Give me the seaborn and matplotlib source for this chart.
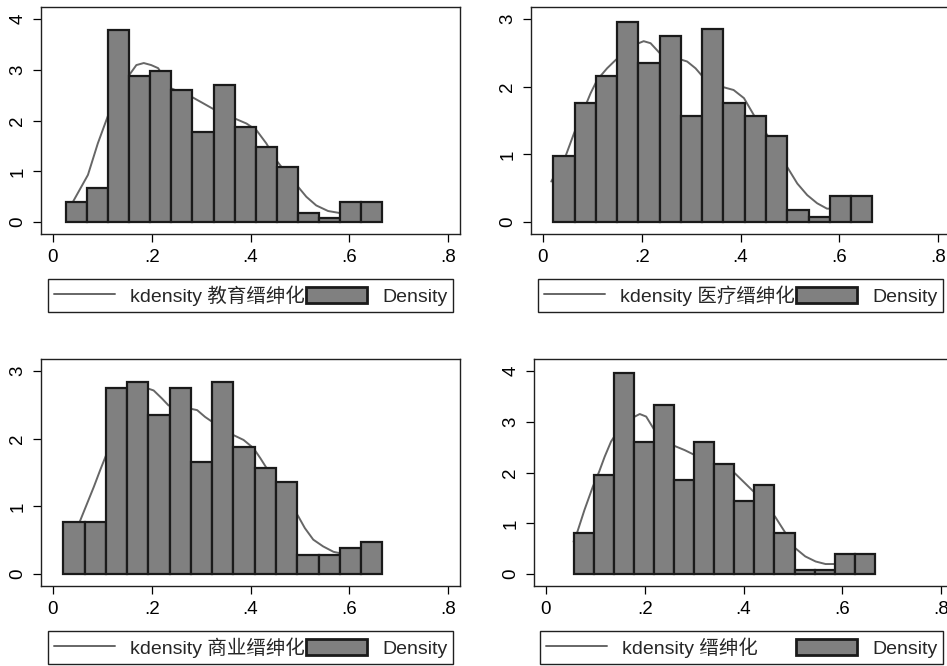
import numpy as np
import pandas as pd
import matplotlib
matplotlib.use("Agg")
import matplotlib.pyplot as plt
from matplotlib.lines import Line2D
from matplotlib.patches import Patch
import seaborn as sns

sns.set_style("ticks")
plt.rcParams['font.family'] = ['Liberation Sans', 'Noto Sans CJK SC']
plt.rcParams['font.size'] = 13.3

# variable names (legend labels)
names = ["教育缙绅化", "医疗缙绅化", "商业缙绅化", "缙绅化"]

# histogram range (min / max of each variable), 15 bins each
bin_lo = [0.027, 0.021, 0.021, 0.056]
bin_hi = [0.666, 0.667, 0.667, 0.666]

# bar heights (density)
dens_edu = [0.39, 0.68, 3.78, 2.88, 2.98, 2.59, 1.78, 2.69, 1.88, 1.48, 1.08, 0.19, 0.09, 0.39, 0.39]
dens_med = [0.975, 1.76, 2.16, 2.95, 2.35, 2.75, 1.57, 2.85, 1.76, 1.57, 1.27, 0.18, 0.08, 0.38, 0.38]
dens_com = [0.776, 0.776, 2.75, 2.84, 2.35, 2.75, 1.66, 2.84, 1.87, 1.56, 1.36, 0.285, 0.285, 0.38, 0.48]
dens_all = [0.82, 1.96, 3.95, 2.59, 3.33, 1.85, 2.59, 2.17, 1.44, 1.75, 0.82, 0.085, 0.085, 0.40, 0.40]

# kernel density curves
kde_x_edu = [0.040, 0.071, 0.091, 0.111, 0.130, 0.155, 0.169, 0.184, 0.199, 0.213, 0.240, 0.280, 0.304,
             0.324, 0.368, 0.392, 0.412, 0.432, 0.452, 0.473, 0.496, 0.513, 0.533, 0.557, 0.581, 0.620, 0.660]
kde_y_edu = [0.39, 0.93, 1.55, 2.08, 2.50, 2.90, 3.09, 3.13, 3.09, 3.03, 2.63, 2.47, 2.34,
             2.23, 2.04, 1.94, 1.81, 1.55, 1.22, 0.96, 0.70, 0.50, 0.33, 0.22, 0.18, 0.20, 0.22]

kde_x_med = [0.017, 0.046, 0.063, 0.0965, 0.110, 0.130, 0.147, 0.171, 0.194, 0.204, 0.218, 0.237, 0.258,
             0.279, 0.292, 0.309, 0.322, 0.343, 0.366, 0.386, 0.407, 0.427, 0.447, 0.471, 0.494, 0.515,
             0.535, 0.555, 0.575, 0.582, 0.620, 0.660]
kde_y_med = [0.60, 0.975, 1.31, 1.90, 2.10, 2.27, 2.39, 2.54, 2.64, 2.67, 2.64, 2.49, 2.42,
             2.40, 2.37, 2.27, 2.16, 2.05, 1.99, 1.95, 1.83, 1.58, 1.36, 1.11, 0.82, 0.57,
             0.40, 0.28, 0.20, 0.20, 0.22, 0.24]

kde_x_com = [0.0545, 0.083, 0.096, 0.108, 0.137, 0.164, 0.192, 0.204, 0.221, 0.234, 0.258, 0.279, 0.292,
             0.308, 0.322, 0.345, 0.366, 0.386, 0.406, 0.420, 0.433, 0.453, 0.477, 0.497, 0.510, 0.527,
             0.547, 0.568, 0.581, 0.620, 0.660]
kde_y_com = [0.776, 1.29, 1.54, 1.76, 2.22, 2.57, 2.74, 2.71, 2.59, 2.49, 2.44, 2.44, 2.42,
             2.32, 2.25, 2.13, 2.05, 1.98, 1.86, 1.71, 1.56, 1.34, 1.09, 0.85, 0.68, 0.51,
             0.41, 0.33, 0.31, 0.33, 0.35]

kde_x_all = [0.056, 0.064, 0.078, 0.095, 0.108, 0.119, 0.132, 0.156, 0.180, 0.190, 0.203, 0.220, 0.241,
             0.261, 0.281, 0.302, 0.322, 0.342, 0.363, 0.383, 0.403, 0.424, 0.444, 0.464, 0.485, 0.505,
             0.525, 0.546, 0.566, 0.585, 0.620, 0.660]
kde_y_all = [0.64, 0.84, 1.26, 1.72, 2.02, 2.31, 2.61, 2.97, 3.10, 3.15, 3.10, 2.83, 2.64,
             2.52, 2.44, 2.34, 2.25, 2.17, 2.11, 1.98, 1.79, 1.59, 1.36, 1.13, 0.81, 0.51,
             0.35, 0.25, 0.20, 0.20, 0.22, 0.24]

dens = [dens_edu, dens_med, dens_com, dens_all]
kde_x = [kde_x_edu, kde_x_med, kde_x_com, kde_x_all]
kde_y = [kde_y_edu, kde_y_med, kde_y_com, kde_y_all]
y_top = [4, 3, 3, 4]

W, H = 947, 666
fig = plt.figure(figsize=(W / 100, H / 100), dpi=100)

# panel frames in pixels: left, top, right, bottom
frames = [(41, 7, 460, 234), (531, 7, 950, 234), (41, 359, 460, 586), (534, 359, 953, 586)]
# legend boxes in pixels: left, top, right, bottom
leg_boxes = [(48, 278, 453, 313), (538, 278, 943, 313), (48, 630, 453, 665), (540, 630, 943, 665)]

bar_col = "#808080"
edge_col = "#1a1a1a"
line_col = "#666666"

for i in range(4):
    l, t, r, b = frames[i]
    ax = fig.add_axes([l / W, 1 - b / H, (r - l) / W, (b - t) / H])

    edges = list(np.linspace(bin_lo[i], bin_hi[i], 16))
    centers = [(a + c) / 2 for a, c in zip(edges[:-1], edges[1:])]
    hist_df = pd.DataFrame({"x": centers, "density": dens[i]})
    kde_df = pd.DataFrame({"x": kde_x[i], "y": kde_y[i]})

    sns.lineplot(data=kde_df, x="x", y="y", ax=ax, color=line_col, lw=1.4, zorder=1)
    sns.histplot(data=hist_df, x="x", weights="density", bins=edges, stat="count", ax=ax,
                 color=bar_col, edgecolor=edge_col, linewidth=1.6, alpha=1, zorder=2)

    ax.set_xlim(-0.024, 0.824)
    ax.set_xticks([0, 0.2, 0.4, 0.6, 0.8])
    ax.set_xticklabels(["0", ".2", ".4", ".6", ".8"])
    yt = y_top[i]
    ax.set_ylim(-0.058 * yt, yt * 1.058)
    ax.set_yticks(range(yt + 1))
    ax.set_yticklabels([str(v) for v in range(yt + 1)])
    ax.set_xlabel("")
    ax.set_ylabel("")
    ax.tick_params(axis="both", length=5.5, width=0.9, pad=5, labelsize=13.5, colors="black")
    ax.tick_params(axis="y", labelrotation=90)
    for lab in ax.get_yticklabels():
        lab.set_va("center")
    for sp in ax.spines.values():
        sp.set_visible(True)
        sp.set_color("#202020")
        sp.set_linewidth(1.0)

    handles = [Line2D([], [], color=line_col, lw=1.4),
               Patch(facecolor=bar_col, edgecolor=edge_col, linewidth=2)]
    labels = ["kdensity " + names[i], "Density"]
    ll, lt, lr, lb = leg_boxes[i]
    leg = fig.legend(handles, labels, ncol=2, loc="center", mode="expand",
                     bbox_to_anchor=(ll / W, 1 - lb / H, (lr - ll) / W, (lb - lt) / H),
                     bbox_transform=fig.transFigure, borderaxespad=0, fancybox=False,
                     frameon=True, edgecolor="#202020", framealpha=1, fontsize=14,
                     handlelength=3.15, handleheight=0.9, handletextpad=0.75,
                     borderpad=0.3, columnspacing=0.4)
    leg.get_frame().set_linewidth(1.0)

fig.savefig("out.png", dpi=100)
